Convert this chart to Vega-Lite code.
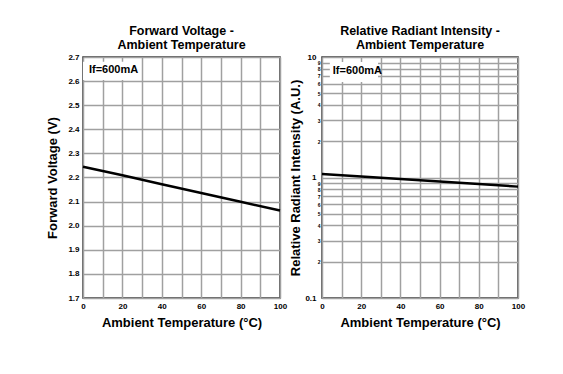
{
  "$schema": "https://vega.github.io/schema/vega-lite/v6.json",
  "background": "white",
  "padding": {"left": 46, "top": 23, "right": 5, "bottom": 5},
  "spacing": 1,
  "config": {
    "font": "Liberation Sans",
    "view": {"stroke": "#333333", "strokeWidth": 1.5},
    "axis": {
      "domain": false, "ticks": false, "grid": true,
      "gridColor": "#a0a0a0", "gridWidth": 1.5,
      "labelFont": "Liberation Sans", "labelFontWeight": "bold", "labelFontSize": 8, "labelColor": "#000",
      "titleFont": "Liberation Sans", "titleFontWeight": "bold", "titleFontSize": 13, "titleColor": "#000",
      "labelPadding": 4, "labelOverlap": false, "labelFlush": false
    },
    "title": {"font": "Liberation Sans", "fontSize": 12.5, "fontWeight": "bold", "color": "#000", "anchor": "middle", "lineHeight": 14, "offset": 2}
  },
  "hconcat": [
    {
      "title": {"text": ["Forward Voltage -", "Ambient Temperature"]},
      "width": 197, "height": 241,
      "encoding": {
        "x": {"field": "t", "type": "quantitative", "title": "Ambient Temperature (°C)",
              "scale": {"domain": [0, 100], "nice": false},
              "axis": {"values": [0,10,20,30,40,50,60,70,80,90,100], "labelExpr": "datum.value % 20 == 0 ? datum.label : ''", "titlePadding": 6}},
        "y": {"field": "v", "type": "quantitative", "title": "Forward Voltage (V)",
              "scale": {"domain": [1.7, 2.7], "nice": false, "zero": false},
              "axis": {"values": [1.7,1.8,1.9,2.0,2.1,2.2,2.3,2.4,2.5,2.6,2.7], "format": ".1f", "titlePadding": 8}}
      },
      "layer": [
        {
          "data": {"values": [
            {"t": 0, "v": 2.245}, {"t": 20, "v": 2.209}, {"t": 40, "v": 2.172},
            {"t": 60, "v": 2.136}, {"t": 80, "v": 2.099}, {"t": 100, "v": 2.063}
          ]},
          "mark": {"type": "line", "color": "#000", "strokeWidth": 2.5}
        },
        {
          "data": {"values": [{"t": 0, "t2": 28, "v": 2.68, "v2": 2.605}]},
          "mark": {"type": "rect", "fill": "white"},
          "encoding": {"x2": {"field": "t2"}, "y2": {"field": "v2"}}
        },
        {
          "data": {"values": [{"t": 3, "v": 2.644, "label": "If=600mA"}]},
          "mark": {"type": "text", "align": "left", "baseline": "middle", "fontWeight": "bold", "fontSize": 11, "font": "Liberation Sans", "color": "#000"},
          "encoding": {"text": {"field": "label"}}
        }
      ]
    },
    {
      "title": {"text": ["Relative Radiant Intensity -", "Ambient Temperature"]},
      "width": 196, "height": 241,
      "encoding": {
        "x": {"field": "t", "type": "quantitative", "title": "Ambient Temperature (°C)",
              "scale": {"domain": [0, 100], "nice": false},
              "axis": {"values": [0,10,20,30,40,50,60,70,80,90,100], "labelExpr": "datum.value % 20 == 0 ? datum.label : ''", "titlePadding": 6}},
        "y": {"field": "v", "type": "quantitative", "title": "Relative Radiant Intensity (A.U.)",
              "scale": {"type": "log", "domain": [0.1, 10], "nice": false},
              "axis": {
                "values": [0.1,0.2,0.3,0.4,0.5,0.6,0.7,0.8,0.9,1,2,3,4,5,6,7,8,9,10],
                "labelExpr": "datum.value == 0.1 ? '0.1' : datum.value < 1 ? format(datum.value * 10, '.0f') : format(datum.value, '.0f')",
                "labelFontSize": {"condition": {"test": "datum.value == 0.1 || datum.value == 1 || datum.value == 10", "value": 8}, "value": 5},
                "labelPadding": {"condition": {"test": "datum.value == 0.1 || datum.value == 1 || datum.value == 10", "value": 6}, "value": 2},
                "titlePadding": 2
              }}
      },
      "layer": [
        {
          "data": {"values": [
            {"t": 0, "v": 1.067}, {"t": 20, "v": 1.02}, {"t": 40, "v": 0.972},
            {"t": 60, "v": 0.925}, {"t": 80, "v": 0.882}, {"t": 100, "v": 0.84}
          ]},
          "mark": {"type": "line", "color": "#000", "strokeWidth": 2.5}
        },
        {
          "data": {"values": [{"t": 4, "t2": 28.6, "v": 9.1, "v2": 6.2}]},
          "mark": {"type": "rect", "fill": "white"},
          "encoding": {"x2": {"field": "t2"}, "y2": {"field": "v2"}}
        },
        {
          "data": {"values": [{"t": 5.5, "v": 7.6, "label": "If=600mA"}]},
          "mark": {"type": "text", "align": "left", "baseline": "middle", "fontWeight": "bold", "fontSize": 11, "font": "Liberation Sans", "color": "#000"},
          "encoding": {"text": {"field": "label"}}
        }
      ]
    }
  ]
}
